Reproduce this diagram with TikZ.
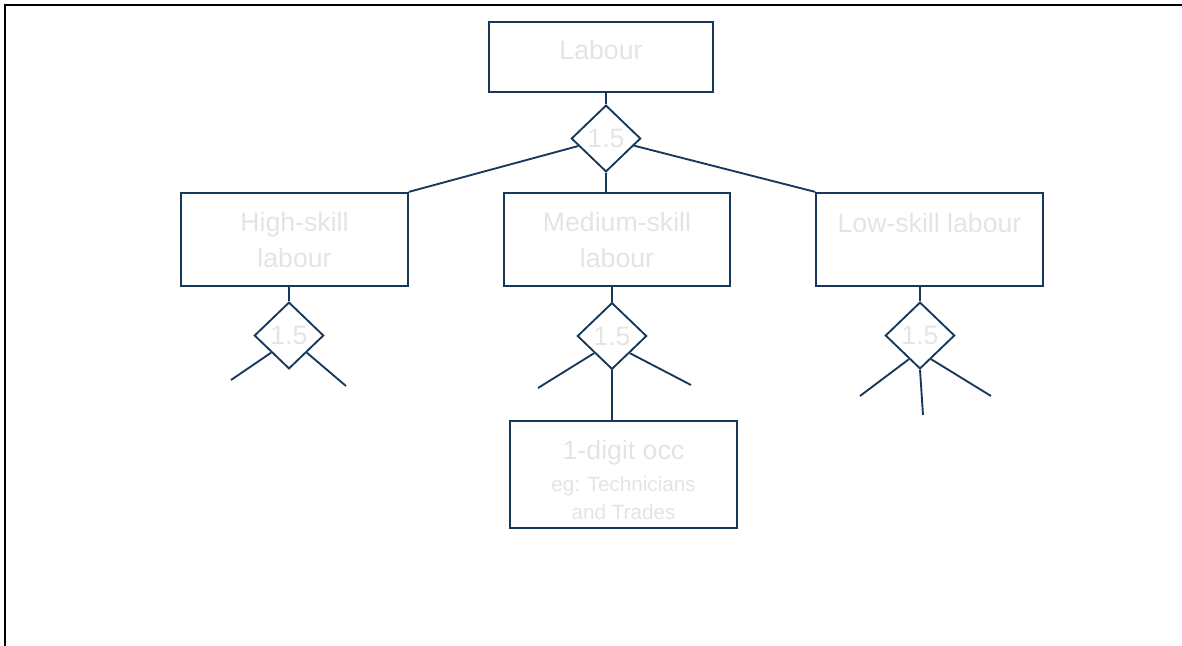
\documentclass[tikz,border=0pt]{standalone}
\usepackage{fontspec}
\setmainfont{Liberation Sans}
\usetikzlibrary{shapes.geometric}
\definecolor{nestline}{RGB}{23,56,90}
\definecolor{nesttext}{RGB}{228,228,228}
\tikzset{
	nestbox/.style={draw=nestline,line width=1.4pt,rectangle,inner sep=0pt,
		minimum width=170pt,minimum height=70pt,text=nesttext,
		font=\fontsize{20}{27}\selectfont,align=center},
	elas/.style={draw=nestline,line width=1.4pt,diamond,inner sep=0pt,
		minimum width=52pt,minimum height=50pt,text=nesttext,
		font=\fontsize{20}{24}\selectfont},
	link/.style={draw=nestline,line width=1.4pt},
}
\begin{document}
\begin{tikzpicture}[x=0.75pt,y=-0.75pt]
		\useasboundingbox (0,0) rectangle (1182,646);
		% Frame
		\draw[line width=1.5pt,black] (5,646) -- (5,5) -- (1182,5);
		% Top nest
		\node[nestbox,minimum width=168pt,minimum height=52.5pt,text depth=10pt] (lab) at (601,57) {Labour};
		\node[elas] (dtop) at (606,138.5) {1.5};
		\draw[link] (lab.south -| dtop.north) -- (dtop.north);
		% Skill groups
		\node[nestbox] (high) at (294.5,239.5) {High-skill\\labour};
		\node[nestbox] (med) at (617,239.5) {Medium-skill\\labour};
		\node[nestbox,text depth=25.7pt] (low) at (929.5,239.5) {Low-skill labour};
		\draw[link] (high.north east) -- (dtop);
		\draw[link] (dtop.south) -- (dtop.south |- med.north);
		\draw[link] (low.north west) -- (dtop);
		% High-skill nest
		\node[elas] (hd) at (289,335.5) {1.5};
		\draw[link] (hd.north |- high.south) -- (hd.north);
		\coordinate (hl) at (231,380);
		\coordinate (hr) at (346,386);
		\draw[link] (hd.south west) -- (hl);
		\draw[link] (hd.south east) -- (hr);
		% Medium-skill nest
		\node[elas] (md) at (612,336) {1.5};
		\draw[link] (md.north |- med.south) -- (md.north);
		\coordinate (ml) at (538,388);
		\coordinate (mr) at (691,385);
		\draw[link] (md.south west) -- (ml);
		\draw[link] (md.south east) -- (mr);
		\node[nestbox,minimum height=80pt,font=\fontsize{15.5}{21}\selectfont,text height=68.25pt] (occ) at (623.5,474.5)
			{{\fontsize{20}{27}\selectfont 1-digit occ}\\[3pt]eg: Technicians\\and Trades};
		\draw[link] (md.south) -- (md.south |- occ.north);
		% Low-skill nest
		\node[elas] (ld) at (920,335.5) {1.5};
		\draw[link] (ld.north |- low.south) -- (ld.north);
		\coordinate (ll) at (860,396);
		\coordinate (lm) at (923,415);
		\coordinate (lr) at (991,396);
		\draw[link] (ld.-115) -- (ll);
		\draw[link] (ld.south) -- (lm);
		\draw[link] (ld.-65) -- (lr);
\end{tikzpicture}
\end{document}
